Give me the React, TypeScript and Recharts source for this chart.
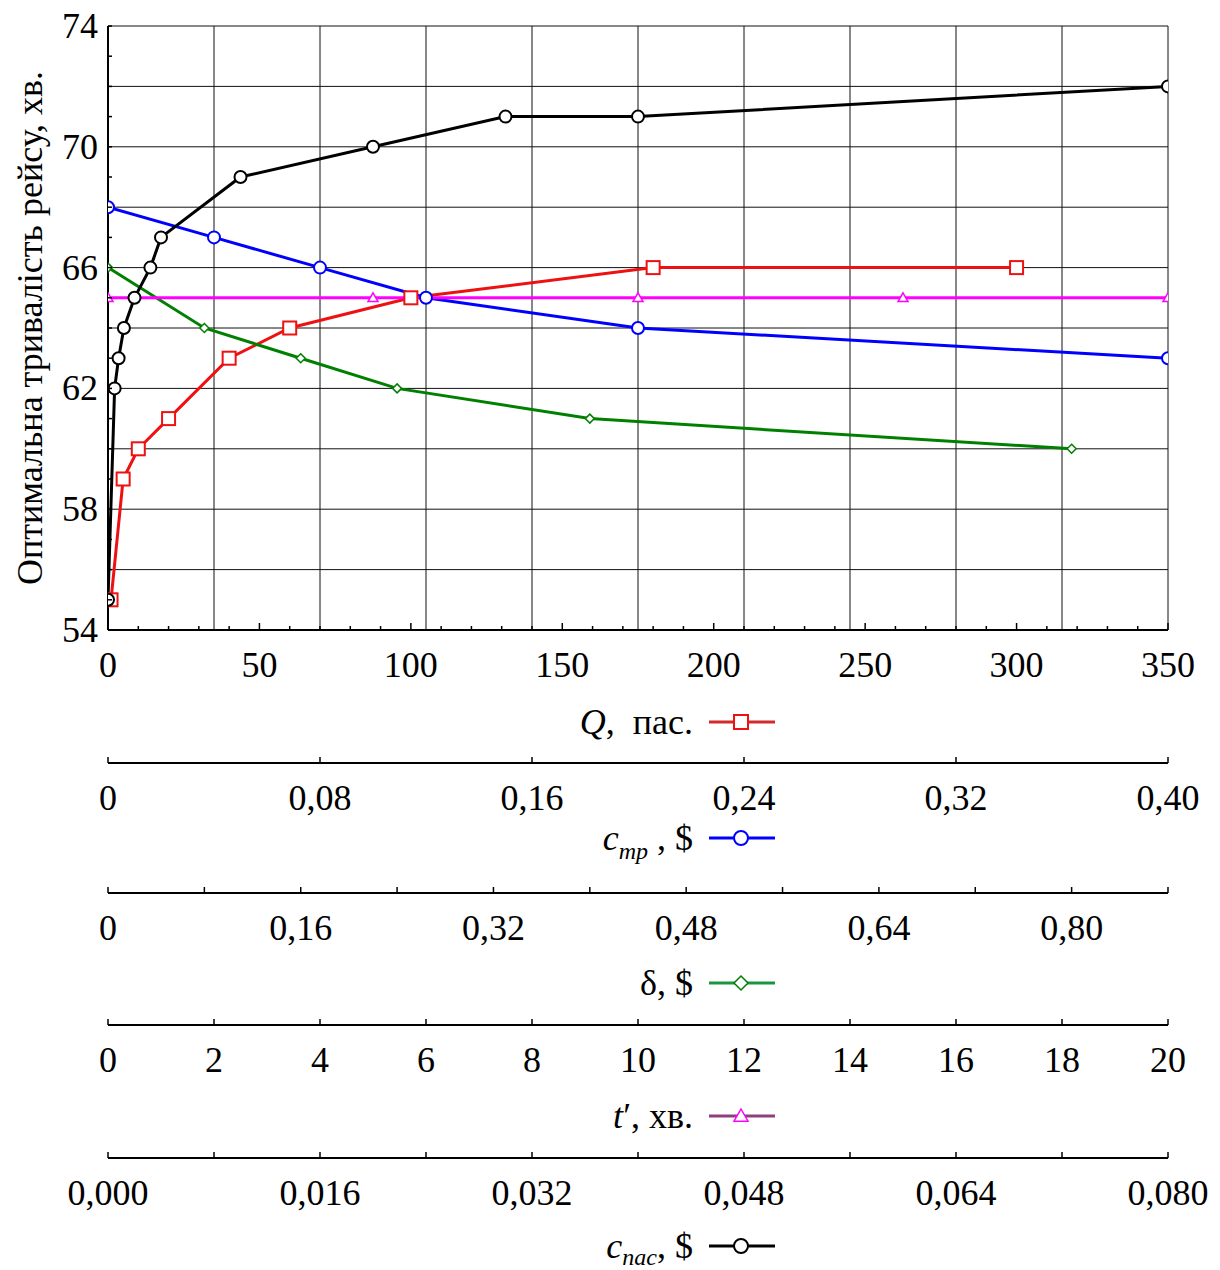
import React from 'react';
import { LineChart, Line, XAxis, YAxis, CartesianGrid } from 'recharts';

const FONT = "'Liberation Serif', 'Times New Roman', serif";

// Q, пас. (red squares)
const qValues = [1, 5, 10, 20, 40, 60, 100, 180, 300];
const qDuration = [55, 59, 60, 61, 63, 64, 65, 66, 66];

// c_тр, $ (blue circles)
const cTrValues = [0, 0.04, 0.08, 0.12, 0.2, 0.4];
const cTrDuration = [68, 67, 66, 65, 64, 63];

// δ, $ (green diamonds)
const deltaValues = [0, 0.08, 0.16, 0.24, 0.4, 0.8];
const deltaDuration = [66, 64, 63, 62, 61, 60];

// t', хв. (magenta triangles)
const tValues = [0, 5, 10, 15, 20];
const tDuration = [65, 65, 65, 65, 65];

// c_пас, $ (black circles)
const cPasValues = [0, 0.0005, 0.0008, 0.0012, 0.002, 0.0032, 0.004, 0.01, 0.02, 0.03, 0.04, 0.08];
const cPasDuration = [55, 62, 63, 64, 65, 66, 67, 69, 70, 71, 71, 72];

// axis ticks and labels
const qTicks = Array.from({ length: 36 }, (_, i) => i * 10);
const qLabels = qTicks.map((v) => (v % 50 === 0 ? String(v) : ''));

const cTrTicks = [0, 0.08, 0.16, 0.24, 0.32, 0.4];
const cTrLabels = ['0', '0,08', '0,16', '0,24', '0,32', '0,40'];

const deltaTicks = [0, 0.08, 0.16, 0.24, 0.32, 0.4, 0.48, 0.56, 0.64, 0.72, 0.8, 0.88];
const deltaLabels = ['0', '', '0,16', '', '0,32', '', '0,48', '', '0,64', '', '0,80', ''];

const tTicks = [0, 2, 4, 6, 8, 10, 12, 14, 16, 18, 20];
const tLabels = ['0', '2', '4', '6', '8', '10', '12', '14', '16', '18', '20'];

const cPasTicks = [0, 0.008, 0.016, 0.024, 0.032, 0.04, 0.048, 0.056, 0.064, 0.072, 0.08];
const cPasLabels = ['0,000', '', '0,016', '', '0,032', '', '0,048', '', '0,064', '', '0,080'];

const yTicks = Array.from({ length: 21 }, (_, i) => 54 + i);
const yGridTicks = [54, 56, 58, 60, 62, 64, 66, 68, 70, 72, 74];

const toData = (xs: number[], ys: number[]) => xs.map((x, i) => ({ x, v: ys[i] }));

const qData = toData(qValues, qDuration);
const cTrData = toData(cTrValues, cTrDuration);
const deltaData = toData(deltaValues, deltaDuration);
const tData = toData(tValues, tDuration);
const cPasData = toData(cPasValues, cPasDuration);

const RED = '#ee1111';
const BLUE = '#0000ff';
const GREEN = '#008000';
const MAGENTA = '#ff00ff';
const BLACK = '#000000';

// markers
const Square = ({ cx, cy, color, s = 6.5 }: any) => (
  <rect x={cx - s} y={cy - s} width={s * 2} height={s * 2} fill="#fff" stroke={color} strokeWidth={2} />
);
const Circle = ({ cx, cy, color, r = 6 }: any) => (
  <circle cx={cx} cy={cy} r={r} fill="#fff" stroke={color} strokeWidth={2} />
);
const Diamond = ({ cx, cy, color, s = 4.5 }: any) => (
  <polygon
    points={`${cx},${cy - s} ${cx + s},${cy} ${cx},${cy + s} ${cx - s},${cy}`}
    fill="#fff"
    stroke={color}
    strokeWidth={1.5}
  />
);
const Triangle = ({ cx, cy, color, s = 5 }: any) => (
  <polygon
    points={`${cx},${cy - s} ${cx + s},${cy + s * 0.75} ${cx - s},${cy + s * 0.75}`}
    fill="#fff"
    stroke={color}
    strokeWidth={1.5}
  />
);

const dotOf = (Shape: any, color: string) => (p: any) => {
  if (p.cx == null || p.cy == null) return <g key={p.index} />;
  return <Shape key={p.index} cx={p.cx} cy={p.cy} color={color} />;
};

// bottom axis tick: tick mark pointing up, label below
const bottomTick = (labels: string[], tickLen: (i: number) => number) => (props: any) => {
  const { x, y, index } = props;
  const label = labels[index];
  const len = tickLen(index);
  return (
    <g>
      {len > 0 && <line x1={x} x2={x} y1={y} y2={y - len} stroke="#000" strokeWidth={1.5} />}
      {label ? (
        <text x={x} y={y + 47} textAnchor="middle" fontSize={36} fill="#000" fontFamily={FONT}>
          {label}
        </text>
      ) : null}
    </g>
  );
};

const topTick = (props: any) => {
  const { x, y, index } = props;
  const len = index % 5 === 0 ? 7 : 4;
  return <line x1={x} x2={x} y1={y} y2={y + len} stroke="#000" strokeWidth={1.5} />;
};

const leftTick = (props: any) => {
  const { x, y, payload } = props;
  const v = payload.value;
  return (
    <g>
      <line x1={x} x2={x + 4} y1={y} y2={y} stroke="#000" strokeWidth={1.5} />
      {(v - 54) % 4 === 0 ? (
        <text x={x - 10} y={y + 12} textAnchor="end" fontSize={36} fill="#000" fontFamily={FONT}>
          {v}
        </text>
      ) : null}
    </g>
  );
};

const rightTick = (props: any) => {
  const { x, y } = props;
  return <line x1={x} x2={x - 4} y1={y} y2={y} stroke="#000" strokeWidth={1.5} />;
};

const emptyTick = () => <g />;

const AxisTitle = ({ viewBox, dy, color, lineColor, Marker, children }: any) => {
  const center = viewBox.x + viewBox.width / 2;
  const cy = viewBox.y + dy;
  return (
    <g>
      <text x={center + 55} y={cy + 12} textAnchor="end" fontSize={36} fill="#000" fontFamily={FONT}>
        {children}
      </text>
      <line x1={center + 71} x2={center + 137} y1={cy} y2={cy} stroke={lineColor || color} strokeWidth={3} />
      <Marker cx={center + 103} cy={cy} color={color} />
    </g>
  );
};

const bottomAxisCommon = {
  dataKey: 'x',
  type: 'number' as const,
  interval: 0 as const,
  allowDataOverflow: true,
  tickSize: 0,
  tickMargin: 0,
  tickLine: false,
  axisLine: { stroke: '#000', strokeWidth: 2 },
};

const App = () => (
  <div style={{ position: 'absolute', left: 0, top: 0, background: '#fff' }}>
    <LineChart width={1220} height={1270} margin={{ top: 26, right: 52, bottom: 0, left: 0 }}>
      <CartesianGrid xAxisId="x4_t" yAxisId="yg" stroke="#111" strokeWidth={1} />

      <XAxis
        {...bottomAxisCommon}
        xAxisId="x1_q"
        domain={[0, 350]}
        ticks={qTicks}
        height={133}
        tick={bottomTick(qLabels, (i) => (i % 5 === 0 ? 7 : 4))}
        label={(p: any) => (
          <AxisTitle viewBox={p.viewBox} dy={92} color={RED} lineColor="#d42a2a" Marker={(m: any) => <Square {...m} s={7} />}>
            <tspan fontStyle="italic">Q</tspan>
            <tspan>{',\u00A0\u00A0пас.'}</tspan>
          </AxisTitle>
        )}
      />
      <XAxis
        {...bottomAxisCommon}
        xAxisId="x2_c"
        domain={[0, 0.4]}
        ticks={cTrTicks}
        height={130}
        tick={bottomTick(cTrLabels, () => 6)}
        label={(p: any) => (
          <AxisTitle viewBox={p.viewBox} dy={75} color={BLUE} Marker={(m: any) => <Circle {...m} r={7} />}>
            <tspan fontStyle="italic">c</tspan>
            <tspan fontStyle="italic" fontSize={24} dy={9}>тр</tspan>
            <tspan dy={-9}>{'\u00A0,\u00A0$'}</tspan>
          </AxisTitle>
        )}
      />
      <XAxis
        {...bottomAxisCommon}
        xAxisId="x3_d"
        domain={[0, 0.88]}
        ticks={deltaTicks}
        height={132}
        tick={bottomTick(deltaLabels, () => 6)}
        label={(p: any) => (
          <AxisTitle viewBox={p.viewBox} dy={90} color={GREEN} lineColor="#1a9641" Marker={(m: any) => <Diamond {...m} s={7} />}>
            <tspan>{'δ,\u00A0$'}</tspan>
          </AxisTitle>
        )}
      />
      <XAxis
        {...bottomAxisCommon}
        xAxisId="x4_t"
        domain={[0, 20]}
        ticks={tTicks}
        height={133}
        tick={bottomTick(tLabels, () => 6)}
        label={(p: any) => (
          <AxisTitle viewBox={p.viewBox} dy={91} color={MAGENTA} lineColor="#8e3f7e" Marker={(m: any) => <Triangle {...m} s={7} />}>
            <tspan fontStyle="italic">t</tspan>
            <tspan>{'′, хв.'}</tspan>
          </AxisTitle>
        )}
      />
      <XAxis
        {...bottomAxisCommon}
        xAxisId="x5_p"
        domain={[0, 0.08]}
        ticks={cPasTicks}
        height={112}
        tick={bottomTick(cPasLabels, () => 6)}
        label={(p: any) => (
          <AxisTitle viewBox={p.viewBox} dy={88} color={BLACK} Marker={(m: any) => <Circle {...m} r={7} />}>
            <tspan fontStyle="italic">c</tspan>
            <tspan fontStyle="italic" fontSize={24} dy={7}>пас</tspan>
            <tspan dy={-7}>{',\u00A0$'}</tspan>
          </AxisTitle>
        )}
      />
      <XAxis
        xAxisId="x0_top"
        orientation="top"
        type="number"
        domain={[0, 350]}
        ticks={qTicks}
        interval={0}
        allowDataOverflow
        height={0}
        tickSize={0}
        tickMargin={0}
        tickLine={false}
        axisLine={{ stroke: '#000', strokeWidth: 2 }}
        tick={topTick}
      />

      <YAxis
        yAxisId="y"
        type="number"
        domain={[54, 74]}
        ticks={yTicks}
        interval={0}
        allowDataOverflow
        width={108}
        tickSize={0}
        tickMargin={0}
        tickLine={false}
        axisLine={{ stroke: '#000', strokeWidth: 2 }}
        tick={leftTick}
        label={(p: any) => (
          <text
            transform={`translate(30, ${p.viewBox.y + p.viewBox.height / 2}) rotate(-90)`}
            textAnchor="middle"
            dominantBaseline="central"
            fontSize={36}
            fontFamily={FONT}
            fill="#000"
          >
            Оптимальна тривалість рейсу, хв.
          </text>
        )}
      />
      <YAxis
        yAxisId="yr"
        orientation="right"
        type="number"
        domain={[54, 74]}
        ticks={yTicks}
        interval={0}
        allowDataOverflow
        width={0}
        tickSize={0}
        tickMargin={0}
        tickLine={false}
        axisLine={{ stroke: '#000', strokeWidth: 2 }}
        tick={rightTick}
      />
      <YAxis
        yAxisId="yg"
        orientation="right"
        type="number"
        domain={[54, 74]}
        ticks={yGridTicks}
        interval={0}
        allowDataOverflow
        width={0}
        tickSize={0}
        tickMargin={0}
        tick={emptyTick}
        tickLine={false}
        axisLine={false}
      />

      <Line
        xAxisId="x1_q"
        yAxisId="y"
        data={qData}
        dataKey="v"
        type="linear"
        stroke={RED}
        strokeWidth={3}
        dot={dotOf(Square, RED)}
        activeDot={false}
        isAnimationActive={false}
      />
      <Line
        xAxisId="x2_c"
        yAxisId="y"
        data={cTrData}
        dataKey="v"
        type="linear"
        stroke={BLUE}
        strokeWidth={3}
        dot={dotOf(Circle, BLUE)}
        activeDot={false}
        isAnimationActive={false}
      />
      <Line
        xAxisId="x3_d"
        yAxisId="y"
        data={deltaData}
        dataKey="v"
        type="linear"
        stroke={GREEN}
        strokeWidth={3}
        dot={dotOf(Diamond, GREEN)}
        activeDot={false}
        isAnimationActive={false}
      />
      <Line
        xAxisId="x4_t"
        yAxisId="y"
        data={tData}
        dataKey="v"
        type="linear"
        stroke={MAGENTA}
        strokeWidth={3}
        dot={dotOf(Triangle, MAGENTA)}
        activeDot={false}
        isAnimationActive={false}
      />
      <Line
        xAxisId="x5_p"
        yAxisId="y"
        data={cPasData}
        dataKey="v"
        type="linear"
        stroke={BLACK}
        strokeWidth={3}
        dot={dotOf(Circle, BLACK)}
        activeDot={false}
        isAnimationActive={false}
      />
    </LineChart>
  </div>
);

export default App;
